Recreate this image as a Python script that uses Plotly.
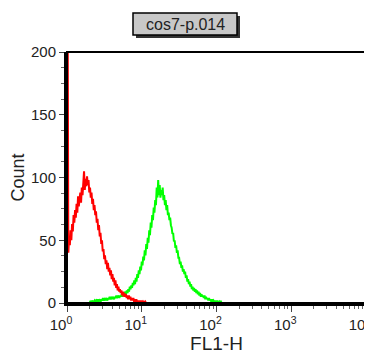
import numpy as np
import plotly.graph_objects as go

# ---- data (log10 channel position start/step, counts) ----
red_log_start = 0.008
red_log_step = 0.01
red_counts = [250,
    40, 52, 46, 58, 50, 63, 57, 70, 64, 74, 68, 79, 72, 85, 77, 83, 88, 80, 92,
    86, 97, 105, 90, 99, 93, 101, 94, 98, 88, 92, 84, 88, 79, 83, 74, 78, 70, 73, 64,
    67, 58, 62, 53, 56, 47, 50, 41, 43, 35, 38, 31, 34, 27, 32, 25, 28, 22, 26, 19,
    23, 17, 20, 14, 18, 12, 15, 10, 13, 9, 11, 8, 10, 6, 9, 5, 8, 5, 7, 4,
    6, 3, 6, 3, 5, 2, 4, 2, 4, 1, 3, 1, 3, 1, 2, 0, 2, 0, 2, 0,
    1, 0, 1, 0, 1, 0]

green_log_start = 0.30
green_log_step = 0.01
green_counts = [
    0, 1, 0, 1, 2, 0, 1, 2, 1, 2,
    1, 3, 1, 2, 3, 1, 3, 2, 4, 2,
    3, 2, 4, 3, 2, 4, 3, 5, 3, 4,
    3, 5, 4, 3, 5, 4, 6, 4, 5, 6,
    4, 6, 5, 7, 5, 8, 6, 7, 9, 7,
    10, 8, 11, 9, 13, 11, 14, 12, 16, 14,
    18, 15, 20, 17, 23, 20, 26, 23, 29, 26,
    33, 30, 37, 34, 42, 38, 47, 43, 52, 48,
    58, 54, 64, 60, 70, 66, 76, 72, 82, 78,
    92, 84, 98, 86, 94, 84, 90, 86, 92, 82,
    86, 78, 82, 74, 78, 70, 72, 66, 68, 62,
    60, 55, 56, 49, 50, 44, 46, 40, 42, 36,
    36, 31, 33, 28, 30, 25, 27, 23, 25, 20,
    22, 17, 19, 15, 17, 13, 15, 11, 13, 10,
    12, 9, 11, 8, 10, 7, 9, 6, 8, 5,
    7, 5, 6, 4, 6, 3, 5, 3, 4, 2,
    4, 2, 3, 1, 3, 1, 2, 1, 2, 0,
    2, 0, 1, 0, 1, 0, 1, 0, 0, 0]

x_tick_vals = [1, 10, 100, 1000, 10000]
x_tick_text = ["10<sup>0</sup>", "10<sup>1</sup>", "10<sup>2</sup>", "10<sup>3</sup>", "10<sup>4</sup>"]
y_tick_vals = [0, 50, 100, 150, 200]
title_text = "cos7-p.014"
x_title = "FL1-H"
y_title = "Count"

red_x = 10 ** (red_log_start + red_log_step * np.arange(len(red_counts)))
green_x = 10 ** (green_log_start + green_log_step * np.arange(len(green_counts)))
minor_x = [m * 10 ** d for d in range(4) for m in range(2, 10)]

# page has an 8px body margin: figure is placed at (8, 8)
OFF = 8
W, H = 372 - OFF, 363 - OFF
L, R, T, B = 67 - OFF, 6, 52 - OFF, 60
PW, PH = W - L - R, H - T - B
PLOT_LEFT_PAGE, PLOT_BOTTOM_PAGE = 67, 303

def px(xp):
    return (xp - PLOT_LEFT_PAGE) / PW

def py(yp):
    return (PLOT_BOTTOM_PAGE - yp) / PH

FONT = "Liberation Sans, Arial, sans-serif"

fig = go.Figure()
fig.add_trace(go.Scatter(x=green_x, y=green_counts, mode="lines",
                         line=dict(color="#00ff00", width=2), showlegend=False))
fig.add_trace(go.Scatter(x=red_x, y=red_counts, mode="lines",
                         line=dict(color="#ff0000", width=2), showlegend=False))

fig.update_layout(
    width=W, height=H,
    margin=dict(l=L, r=R, t=T, b=B, autoexpand=False),
    paper_bgcolor="white", plot_bgcolor="white",
    font=dict(family=FONT, color="#222222"),
    showlegend=False,
)
fig.update_xaxes(
    type="log", range=[0, 4], tickmode="array", tickvals=x_tick_vals, ticktext=x_tick_text,
    ticks="outside", ticklen=6, tickwidth=1, tickcolor="#444444",
    tickfont=dict(size=15, color="#222222"), ticklabelshift=-6,
    showline=True, linecolor="black", linewidth=3, showgrid=False, zeroline=False,
    automargin=False,
    minor=dict(tickmode="array", tickvals=minor_x, ticks="outside", ticklen=3,
               tickcolor="#666666", showgrid=False),
    title=dict(text=x_title, font=dict(size=19, color="#222222"), standoff=2),
)
fig.update_yaxes(
    range=[0, 200], tickmode="array", tickvals=y_tick_vals,
    ticks="outside", ticklen=5, tickwidth=1, tickcolor="#444444",
    tickfont=dict(size=15, color="#222222"),
    showline=True, linecolor="black", linewidth=3, showgrid=False, zeroline=False,
    automargin=False,
    minor=dict(dtick=12.5, ticks="outside", ticklen=3, tickcolor="#666666", showgrid=False),
    title=dict(text=y_title, font=dict(size=18, color="#222222"), standoff=6),
)

# frame
fig.add_shape(type="rect", xref="paper", yref="paper", x0=0, x1=1, y0=0, y1=1,
              line=dict(color="black", width=2), layer="above")
# title box shadow and box
fig.add_shape(type="rect", xref="paper", yref="paper",
              x0=px(136), x1=px(240), y0=py(38), y1=py(16),
              fillcolor="#333333", line=dict(width=0))
fig.add_shape(type="rect", xref="paper", yref="paper",
              x0=px(133), x1=px(237), y0=py(35), y1=py(13),
              fillcolor="#c8c8c8", line=dict(color="black", width=1.5))
fig.add_annotation(xref="paper", yref="paper", x=px(185), y=py(24),
                   text=title_text, showarrow=False,
                   font=dict(size=16, color="#222222", family=FONT),
                   xanchor="center", yanchor="middle")

fig.write_html("out.html")
